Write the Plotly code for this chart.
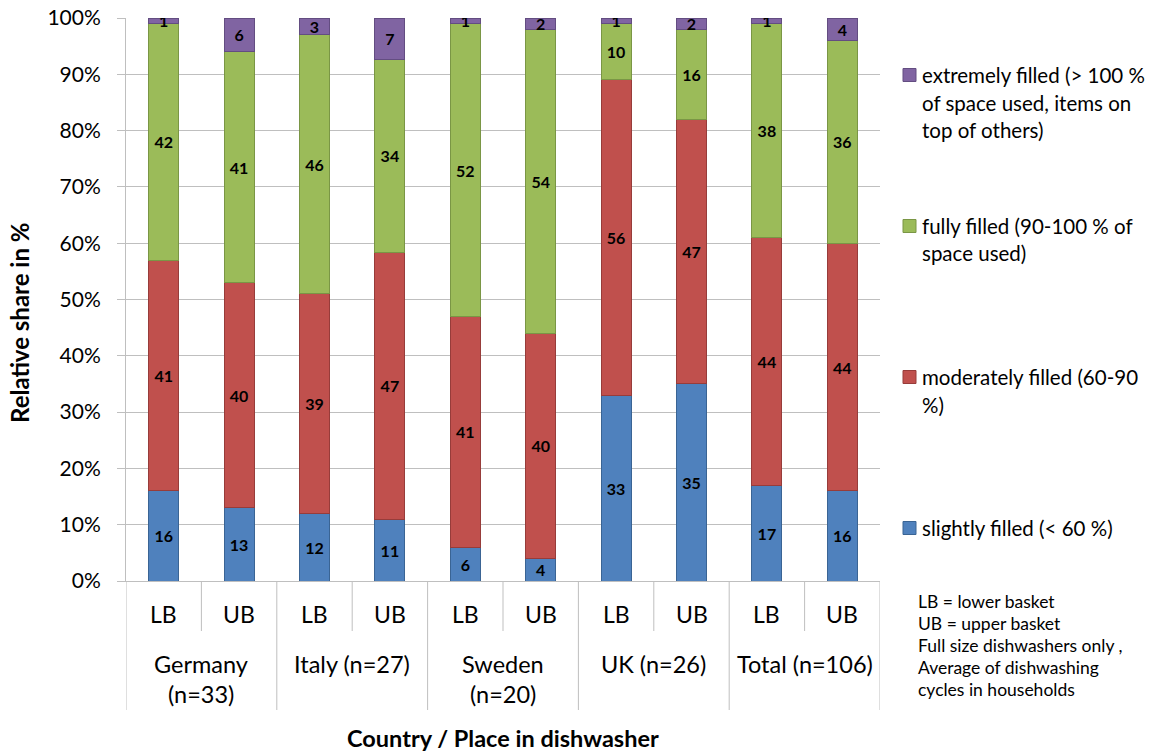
import plotly.graph_objects as go

# ---- data ----
groups = ["Germany<br>(n=33)", "Italy (n=27)", "Sweden<br>(n=20)", "UK (n=26)", "Total (n=106)"]
baskets = ["LB", "UB"]
series_names = [
    "slightly filled (< 60 %)",
    "moderately filled (60-90 %)",
    "fully filled (90-100 % of space used)",
    "extremely filled (> 100 % of space used, items on top of others)",
]
slightly = [16, 13, 12, 11, 6, 4, 33, 35, 17, 16]
moderately = [41, 40, 39, 47.4, 41, 40, 56, 47, 44, 44]
fully = [42, 41, 46, 34.2, 52, 54, 10, 16, 38, 36]
extremely = [1, 6, 3, 7.4, 1, 2, 1, 2, 1, 4]
y_ticks = [0, 10, 20, 30, 40, 50, 60, 70, 80, 90, 100]

fills = ["#4F81BD", "#C0504D", "#9BBB59", "#8064A2"]
edges = ["#3A6494", "#973C3A", "#7A9645", "#634D81"]

FONT = "Lato"
W, H = 1150, 754
L, R, T, B = 126, 880, 18, 581  # plot area pixels


def px2x(px):
    return (px - L) / (R - L)


def py2y(py):
    return (B - py) / (B - T)


n = len(slightly)
xs = list(range(n))

fig = go.Figure()
for vals, name, fc, ec in zip([slightly, moderately, fully, extremely], series_names, fills, edges):
    fig.add_trace(go.Bar(
        x=xs, y=vals, name=name, width=0.4,
        marker=dict(color=fc, line=dict(color=ec, width=1)),
        texttemplate="<b>%{y:.0f}</b>", textposition="inside", insidetextanchor="middle",
        constraintext="none", textangle=0,
        textfont=dict(family=FONT, size=16, color="black"),
        hoverinfo="skip", showlegend=False,
    ))

annotations = []
shapes = []

# category rows below axis
yl_low = py2y(631)
yl_grp = py2y(710)
for i in range(n + 1):
    xpos = i - 0.5
    is_group = (i % 2 == 0)
    shapes.append(dict(type="line", xref="x", yref="paper", x0=xpos, x1=xpos,
                       y0=0, y1=yl_grp if is_group else yl_low,
                       line=dict(color="#BFBFBF", width=1)))
for i in range(n):
    annotations.append(dict(xref="x", yref="paper", x=i, y=py2y(614), text=baskets[i % 2],
                            showarrow=False, yanchor="middle", xanchor="center",
                            font=dict(family=FONT, size=23, color="black")))
for g, label in enumerate(groups):
    lines = label.split("<br>")
    for k, ln in enumerate(lines):
        annotations.append(dict(xref="x", yref="paper", x=2 * g + 0.5, y=py2y(664 + 30 * k), text=ln,
                                showarrow=False, yanchor="middle", xanchor="center",
                                font=dict(family=FONT, size=23.5, color="black")))

# axis titles
annotations.append(dict(xref="x", yref="paper", x=4.5, y=py2y(738),
                        text="<b>Country / Place in dishwasher</b>", showarrow=False,
                        yanchor="middle", xanchor="center",
                        font=dict(family=FONT, size=23.5, color="black")))
annotations.append(dict(xref="paper", yref="paper", x=px2x(19), y=py2y(323),
                        text="<b>Relative share in %</b>", showarrow=False, textangle=-90,
                        yanchor="middle", xanchor="center",
                        font=dict(family=FONT, size=24, color="black")))

# legend (manual)
legend_entries = [
    (3, ["extremely filled (> 100 %", "of space used, items on", "top of others)"], 75),
    (2, ["fully filled (90-100 % of", "space used)"], 226),
    (1, ["moderately filled (60-90", "%)"], 377),
    (0, ["slightly filled (< 60 %)"], 528),
]
for idx, lines, ytop in legend_entries:
    shapes.append(dict(type="rect", xref="paper", yref="paper",
                       x0=px2x(903), x1=px2x(916), y0=py2y(ytop - 6.5), y1=py2y(ytop + 6.5),
                       fillcolor=fills[idx], line=dict(color=edges[idx], width=1)))
    for k, ln in enumerate(lines):
        annotations.append(dict(xref="paper", yref="paper", x=px2x(920), y=py2y(ytop + 27.5 * k),
                                text=ln, showarrow=False, xanchor="left", yanchor="middle",
                                font=dict(family=FONT, size=20.5, color="black")))

notes = ["LB = lower basket", "UB = upper basket", "Full size dishwashers only ,",
         "Average of dishwashing", "cycles in households"]
for k, ln in enumerate(notes):
    annotations.append(dict(xref="paper", yref="paper", x=px2x(916), y=py2y(601 + 22.2 * k),
                            text=ln, showarrow=False, xanchor="left", yanchor="middle",
                            font=dict(family=FONT, size=17.5, color="black")))

fig.update_layout(
    width=W, height=H,
    margin=dict(l=L, r=W - R, t=T, b=H - B, pad=0, autoexpand=False),
    paper_bgcolor="white", plot_bgcolor="white",
    barmode="stack", bargap=0.6,
    xaxis=dict(range=[-0.5, n - 0.5], showticklabels=False, ticks="", showgrid=False,
               zeroline=False, showline=True, linecolor="#BFBFBF", linewidth=1,
               fixedrange=True, automargin=False),
    yaxis=dict(range=[0, 100], tickvals=y_ticks, ticktext=[f"{v}%" for v in y_ticks],
               showgrid=True, gridcolor="#BFBFBF", gridwidth=1, zeroline=False,
               showline=True, linecolor="#BFBFBF", linewidth=1,
               ticks="outside", ticklen=8, tickcolor="#BFBFBF", ticklabelstandoff=12,
               tickfont=dict(family=FONT, size=21, color="black"), fixedrange=True,
               automargin=False),
    annotations=annotations, shapes=shapes,
    showlegend=False,
)

fig.write_html("out.html")
